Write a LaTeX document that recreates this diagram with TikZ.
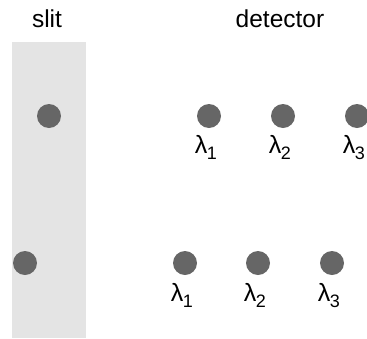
\documentclass[tikz,border=0pt]{standalone}
\usepackage{fontspec}
\setmainfont{Liberation Sans}
\definecolor{slitgray}{HTML}{E4E4E4}
\definecolor{dotgray}{HTML}{666666}
\tikzset{
  title/.style={anchor=base, inner sep=0pt, font=\fontsize{24.5}{26}\selectfont},
  photon/.style={circle, fill=dotgray, minimum size=24pt, inner sep=0pt},
  wavelabel/.style={anchor=base, inner sep=0pt, font=\fontsize{25}{27}\selectfont}
}
\newcommand{\lam}[1]{λ\kern-0.5pt\raisebox{-6.5pt}{\fontsize{18}{20}\selectfont #1}}
\begin{document}
\begin{tikzpicture}[x=1pt, y=-1pt]
  \useasboundingbox (0,0) rectangle (367,338);
  % slit band
  \fill[slitgray] (12,42) rectangle (86,338);
  % headings
  \node[title] (tslit) at (47,27) {slit};
  \node[title] (tdet) at (280,27) {detector};
  % upper row
  \node[photon] (s1) at (49,116) {};
  \node[photon] (a1) at (209,116) {};
  \node[photon] (a2) at (283,116) {};
  \node[photon] (a3) at (357,116) {};
  \node[wavelabel] (la1) at (206,153) {\lam{1}};
  \node[wavelabel] (la2) at (280,153) {\lam{2}};
  \node[wavelabel] (la3) at (354,153) {\lam{3}};
  % lower row
  \node[photon] (s2) at (25,263) {};
  \node[photon] (b1) at (185,263) {};
  \node[photon] (b2) at (258,263) {};
  \node[photon] (b3) at (332,263) {};
  \node[wavelabel] (lb1) at (182,301) {\lam{1}};
  \node[wavelabel] (lb2) at (255,301) {\lam{2}};
  \node[wavelabel] (lb3) at (329,301) {\lam{3}};
\end{tikzpicture}
\end{document}
